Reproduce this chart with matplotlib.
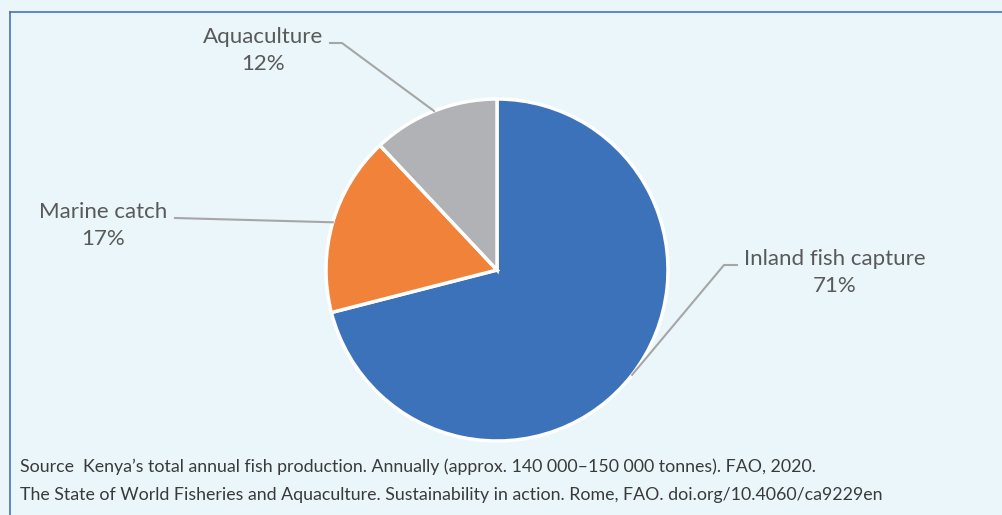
import numpy as np
import matplotlib.pyplot as plt

labels = ["Inland fish capture", "Marine catch", "Aquaculture"]
shares = [71, 17, 12]
colors = ["#3C72B9", "#F0823A", "#B1B2B5"]
# label text anchor (pixels) and elbow of leader line
label_pos = [(835, 259), (103, 212), (263, 37)]
elbow = [(724, 265), (175, 218), (342, 43)]
line_start = [(737, 265), (175, 218), (330, 43)]

source = ["Source  Kenya\u2019s total annual fish production. Annually (approx. 140 000\u2013150 000 tonnes). FAO, 2020.",
          "The State of World Fisheries and Aquaculture. Sustainability in action. Rome, FAO. doi.org/10.4060/ca9229en"]

W, H = 1003, 515
bg = "#EAF6F9"
fig = plt.figure(figsize=(W / 100, H / 100), dpi=100, facecolor=bg)
ax = fig.add_axes([0, 0, 1, 1])

cx, cy, r = 497, H - 270, 171
wedges, _ = ax.pie(shares, colors=colors, startangle=90, counterclock=False,
                   center=(cx, cy), radius=r, frame=True,
                   wedgeprops=dict(edgecolor="white", linewidth=2.5))
ax.set_xlim(0, W)
ax.set_ylim(0, H)
ax.set_aspect("equal")
ax.axis("off")

lab_font = "Lato"
for w, lab, s, (lx, ly), (ex, ey), (sx, sy) in zip(wedges, labels, shares, label_pos, elbow, line_start):
    mid = np.deg2rad((w.theta1 + w.theta2) / 2)
    px, py = cx + r * np.cos(mid), cy + r * np.sin(mid)
    ax.plot([sx, ex, px], [H - sy, H - ey, py], color="#A6A6A6", lw=1.5, zorder=1)
    ax.text(lx, H - ly, lab, ha="center", va="center", fontsize=16, color="#595959", family=lab_font)
    ax.text(lx, H - ly - 27, f"{s}%", ha="center", va="center", fontsize=16, color="#595959", family=lab_font)

# frame lines
ax.plot([10, W], [H - 12, H - 12], color="#4472C4", lw=1.2)
ax.plot([10, 10], [H - 12, 0], color="#4472C4", lw=1.2)

for i, line in enumerate(source):
    ax.text(20, H - 467 - 28 * i, line, ha="left", va="center", fontsize=12.8,
            color="#3A3A3A", family="Lato")

fig.savefig("out.png", dpi=100, facecolor=bg)
